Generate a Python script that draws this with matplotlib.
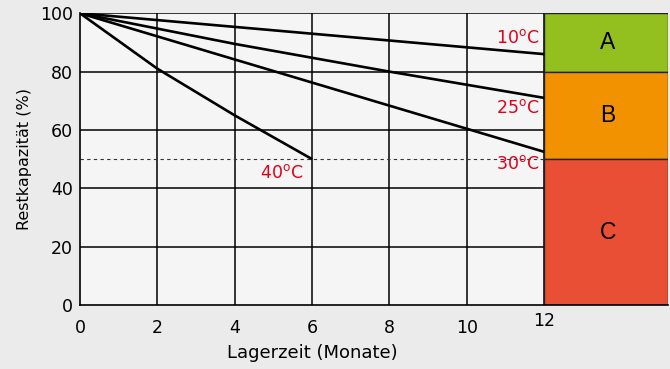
import matplotlib
matplotlib.use('Agg')
from matplotlib import pyplot as plt

# Lagerzeit in Monaten und Restkapazität in % je Lagertemperatur
months_10 = [0, 12]
cap_10 = [100, 86]
months_25 = [0, 4, 8, 12]
cap_25 = [100, 89.5, 80, 71]
months_30 = [0, 12]
cap_30 = [100, 52.5]
months_40 = [0, 2, 4, 6]
cap_40 = [100, 81, 65, 50]

# Bewertungsbereiche rechts neben dem Diagramm
zone_names = ['A', 'B', 'C']
zone_low = [80, 50, 0]
zone_high = [100, 80, 50]
zone_colors = ['#93c01f', '#f39200', '#e94f35']

red = '#e3001b'
plt.rcParams['font.family'] = ['DejaVu Sans']

fig = plt.figure(figsize=(6.7, 3.69), dpi=100, facecolor='#ebebeb')
ax = fig.add_axes([0.1194, 0.1734, 0.8776, 0.7906])
ax.set_facecolor('#f5f5f5')

# Gitter nur im Bereich 0..12 Monate
for x in range(2, 13, 2):
    ax.plot([x, x], [0, 100], color='black', lw=1.1, zorder=1)
for y in range(20, 101, 20):
    ax.plot([0, 12], [y, y], color='black', lw=1.1, zorder=1)

ax.plot([0, 12], [50, 50], color='#333333', lw=0.8, ls=(0, (3, 3)), zorder=1)

for xs, ys in [(months_10, cap_10), (months_25, cap_25), (months_30, cap_30), (months_40, cap_40)]:
    ax.plot(xs, ys, color='black', lw=1.9, zorder=3, solid_capstyle='butt')

deg = '$^{\\mathregular{o}}$'
lbl = dict(color=red, fontsize=12.5, va='center', zorder=4)
ax.text(11.88, 91.6, '10' + deg + 'C', ha='right', **lbl)
ax.text(11.88, 67.5, '25' + deg + 'C', ha='right', **lbl)
ax.text(11.88, 48.3, '30' + deg + 'C', ha='right', **lbl)
ax.text(5.22, 45.3, '40' + deg + 'C', ha='center', **lbl)

for name, lo, hi, col in zip(zone_names, zone_low, zone_high, zone_colors):
    ax.bar(13.6, hi - lo, width=3.2, bottom=lo, color=col, edgecolor='#222222', lw=1.0, zorder=2)
    ax.text(13.65, (lo + hi) / 2, name, fontsize=16.5, family='Liberation Sans',
            ha='center', va='center', zorder=4)

ax.set_xlim(0, 15.2)
ax.set_ylim(0, 100)
ax.set_xticks(range(0, 13, 2))
ax.set_yticks(range(0, 101, 20))
ax.tick_params(length=0, labelsize=12.5)
ax.tick_params(axis='x', pad=10)
ax.tick_params(axis='y', pad=5)
ax.xaxis.get_major_ticks()[-1].set_pad(5)

for side in ['top', 'right']:
    ax.spines[side].set_visible(False)
ax.spines['left'].set_linewidth(1.2)
ax.spines['bottom'].set_linewidth(1.2)

ax.set_xlabel('Lagerzeit (Monate)', fontsize=13)
ax.xaxis.set_label_coords(6 / 15.2, -0.135)
ax.set_ylabel('Restkapazität (%)', fontsize=11.5, labelpad=6)

fig.savefig('out.png', dpi=100, facecolor=fig.get_facecolor())
